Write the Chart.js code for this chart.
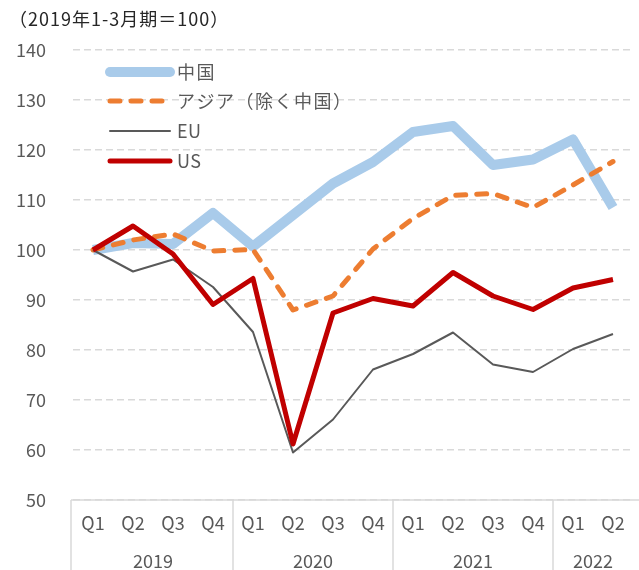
<!DOCTYPE html>
<html><head><meta charset="utf-8">
<script src="https://cdn.jsdelivr.net/npm/chart.js@4/dist/chart.umd.min.js"></script>
<style>html,body{margin:0;padding:0;background:#fff}#wrap{width:639px;height:570px}</style>
</head><body><div id="wrap"><canvas id="c" width="639" height="570"></canvas></div>
<script>
const quarters = ['Q1','Q2','Q3','Q4','Q1','Q2','Q3','Q4','Q1','Q2','Q3','Q4','Q1','Q2'];
const years = ['2019','2020','2021','2022'];
const yearSizes = [4,4,4,2];
const china = [100,101.4,101.2,107.4,100.7,107,113.3,117.6,123.6,124.8,117,118.1,122.1,108.5];
const asia  = [100,102,103.2,99.8,100.1,88,90.8,100.2,106.3,110.9,111.3,108.5,113,117.7];
const eu    = [100,95.7,98.1,92.6,83.6,59.5,66.1,76.1,79.2,83.5,77.1,75.6,80.2,83.2];
const us    = [100,104.8,99.2,89.1,94.3,61.2,87.4,90.3,88.8,95.5,90.8,88.1,92.4,94.1];
const seriesNames = ['中国','アジア（除く中国）','EU','US'];
const yTicks = [50,60,70,80,90,100,110,120,130,140];
const title = '（2019年1-3月期＝100）';

const FONT = '"Noto Sans CJK JP","Noto Sans",sans-serif';
const TXT = '#595959';

const overlay = {
  id:'overlay',
  afterDraw(chart){
    const ctx = chart.ctx, x = chart.scales.x, area = chart.chartArea;
    const hasLS = 'letterSpacing' in ctx;
    ctx.save();
    // title
    ctx.fillStyle = '#262626'; ctx.font = '18px '+FONT; ctx.textBaseline='middle'; ctx.textAlign='left';
    if (hasLS) ctx.letterSpacing = '1px';
    ctx.fillText(title, 9, 19);
    if (hasLS) ctx.letterSpacing = '0px';
    // axis frame
    ctx.strokeStyle = '#d9d9d9'; ctx.lineWidth = 1.5;
    ctx.beginPath(); ctx.moveTo(area.left-2, area.bottom); ctx.lineTo(639, area.bottom); ctx.stroke();
    let idx = 0;
    const step = x.getPixelForValue(1)-x.getPixelForValue(0);
    ctx.font = '18px '+FONT; ctx.textAlign='center'; ctx.fillStyle = TXT;
    for (let g=0; g<years.length; g++){
      const start = x.getPixelForValue(idx) - step/2;
      const end = x.getPixelForValue(idx+yearSizes[g]-1) + step/2;
      const lx = start-(g===0?2:0);
      ctx.beginPath(); ctx.moveTo(lx, area.bottom); ctx.lineTo(lx, 570); ctx.stroke();
      ctx.fillText(years[g], (start+end)/2, 561);
      idx += yearSizes[g];
    }
    // legend
    const rows = [72,101,131,161];
    chart.data.datasets.forEach((ds,i)=>{
      ctx.save();
      ctx.strokeStyle = ds.borderColor; ctx.lineWidth = ds.borderWidth;
      ctx.lineCap = 'round';
      ctx.setLineDash(ds.borderDash || []);
      ctx.beginPath(); ctx.moveTo(110, rows[i]); ctx.lineTo(170, rows[i]); ctx.stroke();
      ctx.restore();
      ctx.fillStyle = TXT; ctx.font='18px '+FONT; ctx.textAlign='left'; ctx.textBaseline='middle';
      const cjk = /[^\x00-\x7F]/.test(ds.label);
      if (hasLS) ctx.letterSpacing = cjk ? '1.5px' : '0.5px';
      ctx.fillText(ds.label, 177, rows[i]);
      if (hasLS) ctx.letterSpacing = '0px';
    });
    ctx.restore();
  }
};

new Chart(document.getElementById('c'), {
  type:'line',
  data:{
    labels: quarters,
    datasets:[
      {label:seriesNames[0], data:china, borderColor:'#a9cbea', borderWidth:10, order:4},
      {label:seriesNames[1], data:asia, borderColor:'#ed7d31', borderWidth:5, borderDash:[10,11], borderCapStyle:'round', order:3},
      {label:seriesNames[2], data:eu, borderColor:'#595959', borderWidth:2, order:2},
      {label:seriesNames[3], data:us, borderColor:'#c00000', borderWidth:5, order:1}
    ].map(d=>Object.assign({pointRadius:0, tension:0, fill:false, borderJoinStyle:'round'}, d))
  },
  options:{
    responsive:false, animation:false, devicePixelRatio:1,
    layout:{padding:{top:50,right:6,left:0,bottom:0}},
    plugins:{legend:{display:false}, tooltip:{enabled:false}},
    scales:{
      x:{
        offset:true,
        grid:{display:false, drawTicks:false},
        border:{display:false},
        ticks:{color:TXT, font:{family:FONT,size:18}, padding:12, maxRotation:0, autoSkip:false},
        afterFit(s){ s.height = 70; }
      },
      y:{
        min:50, max:140,
        afterBuildTicks(s){ s.ticks = yTicks.map(v=>({value:v})); },
        grid:{color:'#d9d9d9', lineWidth:1.5, drawTicks:false},
        border:{display:false, dash:[7,4]},
        ticks:{color:TXT, font:{family:FONT,size:18}, padding:27},
        afterFit(s){ s.width = 73; }
      }
    }
  },
  plugins:[overlay]
});
</script></body></html>
